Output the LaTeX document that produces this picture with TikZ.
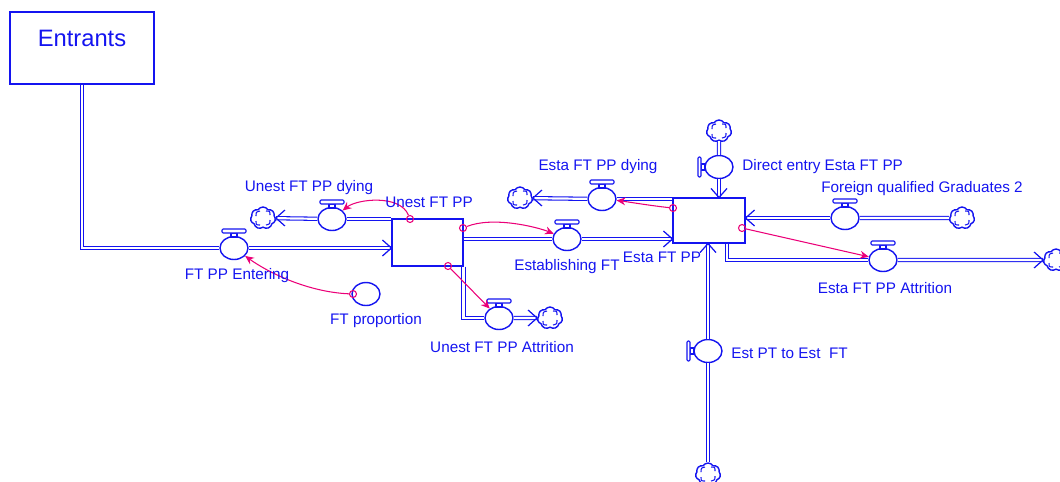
\documentclass[tikz,border=0pt]{standalone}
\usepackage{fontspec}
\setmainfont{Liberation Sans}
\usetikzlibrary{shapes.geometric,shapes.symbols,arrows.meta,calc}
\definecolor{fblue}{RGB}{20,20,240}
\definecolor{lpink}{RGB}{235,0,120}
\begin{document}
\begin{tikzpicture}[x=0.02cm,y=-0.02cm,
  flow/.style={draw=fblue, double=white, double distance=1.25pt, line width=0.6pt},
  valve/.style={ellipse, draw=fblue, line width=0.8pt, fill=white, minimum width=0.56cm, minimum height=0.46cm, inner sep=0pt},
  stock/.style={rectangle, draw=fblue, line width=0.65pt, fill=white, inner sep=0pt},
  cloudn/.style={cloud, cloud puffs=7, cloud puff arc=115, draw=fblue, line width=0.8pt, fill=white, minimum width=0.5cm, minimum height=0.44cm, inner sep=0pt},
  lbl/.style={text=fblue, font=\fontsize{8.7}{10}\selectfont, inner sep=0pt},
  link/.style={draw=lpink, line width=0.6pt, -{Stealth[length=5pt,width=4.5pt]}},
  lorig/.style={circle, draw=lpink, line width=0.6pt, minimum size=0.14cm, inner sep=0pt},
  chev/.pic={\draw[fblue, line width=0.7pt] (-9,-8) -- (0,0) -- (-9,8);},
  htop/.pic={\draw[fblue, line width=0.6pt, fill=white] (-3,-15) rectangle (3,-11);
             \draw[fblue, line width=0.6pt, fill=white, rounded corners=0.6pt] (-12,-19) rectangle (12,-15);},
  hleft/.pic={\draw[fblue, line width=0.6pt, fill=white] (-18,-3) rectangle (-14,3);
              \draw[fblue, line width=0.6pt, fill=white, rounded corners=0.6pt] (-21,-10) rectangle (-18,10);},
  swirl/.pic={\draw[fblue, line width=0.6pt]
     (-7,-2) .. controls (-7,-6) .. (-3,-7)
     (3,-7) .. controls (7,-7) .. (7,-3)
     (7,2) .. controls (7,6) .. (3,7)
     (-3,7) .. controls (-7,7) .. (-7,3);}
]
\useasboundingbox (0,0) rectangle (1060,481);

% stocks
\node[stock, minimum width=2.88cm, minimum height=1.44cm] (entr) at (82,48) {};
\node[text=fblue, font=\fontsize{13.5}{16}\selectfont, inner sep=0pt] (entrt) at (82,38) {Entrants};
\node[stock, minimum width=1.42cm, minimum height=0.94cm] (unest) at (427.5,242.5) {};
\node[stock, minimum width=1.44cm, minimum height=0.9cm] (esta) at (709,220.5) {};

% valves and auxiliaries
\node[valve] (fpe) at (234,248) {};
\node[valve] (udy) at (332,219) {};
\node[valve] (ftp) at (366,294) {};
\node[valve] (est) at (567,239) {};
\node[valve] (uat) at (499,318) {};
\node[valve] (edy) at (602,199) {};
\node[valve] (dir) at (719,167) {};
\node[valve] (fq) at (845,218) {};
\node[valve] (eat) at (883,260) {};
\node[valve] (ept) at (708,351) {};

% clouds
\node[cloudn] (c1) at (263,218) {};
\node[cloudn] (c2) at (550,318) {};
\node[cloudn] (c3) at (520,198) {};
\node[cloudn] (c4) at (719,131) {};
\node[cloudn] (c5) at (962,218) {};
\node[cloudn] (c6) at (1056,260) {};
\node[cloudn] (c7) at (708,474) {};
\foreach \c in {c1,c2,c3,c4,c5,c6,c7} {\pic at (\c) {swirl};}

% pipes
\draw[flow] (entr.south) |- (fpe);
\draw[flow] (fpe) -- (fpe -| unest.west);
\draw[flow] (udy -| unest.west) -- (udy);
\draw[flow] (udy) -- (c1);
\draw[flow] (est -| unest.east) -- (est);
\draw[flow] (est) -- (est -| esta.west);
\draw[flow] (unest.south east) |- (uat);
\draw[flow] (uat) -- (c2);
\draw[flow] (edy -| esta.west) -- (edy);
\draw[flow] (edy) -- (c3);
\draw[flow] (c4) -- (dir);
\draw[flow] (dir) -- (dir |- esta.north);
\draw[flow] (c5) -- (fq);
\draw[flow] (fq) -- (fq -| esta.east);
\draw[flow] ($(esta.south)+(18,0)$) |- (eat);
\draw[flow] (eat) -- (c6);
\draw[flow] (c7) -- (ept);
\draw[flow] (ept) -- (ept |- esta.south);

% chevrons
\pic at (fpe -| unest.west) {chev};
\pic[rotate=180] at (c1.east) {chev};
\pic at (est -| esta.west) {chev};
\pic at (c2.west) {chev};
\pic[rotate=180] at (c3.east) {chev};
\pic[rotate=-90] at (dir |- esta.north) {chev};
\pic[rotate=180] at (fq -| esta.east) {chev};
\pic at (c6.west) {chev};
\pic[rotate=90] at (ept |- esta.south) {chev};

% handles
\foreach \v in {fpe,udy,est,uat,edy,fq,eat} {\pic at (\v) {htop};}
\pic at (dir) {hleft};
\pic at (ept) {hleft};

% links
\node[lorig] (o1) at (353,294) {};
\node[lorig] (o2) at (410,219) {};
\node[lorig] (o3) at (463,228) {};
\node[lorig] (o4) at (448,266) {};
\node[lorig] (o5) at (673,208) {};
\node[lorig] (o6) at (742,228) {};
\draw[link] (o1) .. controls +(-45,-2) and +(35,25) .. (fpe);
\draw[link] (o2) .. controls +(-10,-25) and +(25,-20) .. (udy);
\draw[link] (o3) .. controls +(30,-12) and +(-30,-12) .. (est);
\draw[link] (o4) -- (uat);
\draw[link] (o5) .. controls +(-20,-2) and +(20,2) .. (edy);
\draw[link] (o6) -- (eat);

% labels
\node[lbl] (lfpe) at (237,276) {FT PP Entering};
\node[lbl] (ludy) at (309,188) {Unest FT PP dying};
\node[lbl] (lunest) at (429,202) {Unest FT PP};
\node[lbl] (lftp) at (376,321) {FT proportion};
\node[lbl] (lest) at (567,267) {Establishing FT};
\node[lbl] (luat) at (502,347) {Unest FT PP Attrition};
\node[lbl] (lesta) at (662,257) {Esta FT PP};
\node[lbl] (ledy) at (598,167) {Esta FT PP dying};
\node[lbl, anchor=west] (ldir) at (742,167) {Direct entry Esta FT PP};
\node[lbl] (lfq) at (922,189) {Foreign qualified Graduates 2};
\node[lbl] (leat) at (885,288) {Esta FT PP Attrition};
\node[lbl, anchor=west] (lept) at (731,353) {Est PT to Est\ \ FT};
\end{tikzpicture}
\end{document}
